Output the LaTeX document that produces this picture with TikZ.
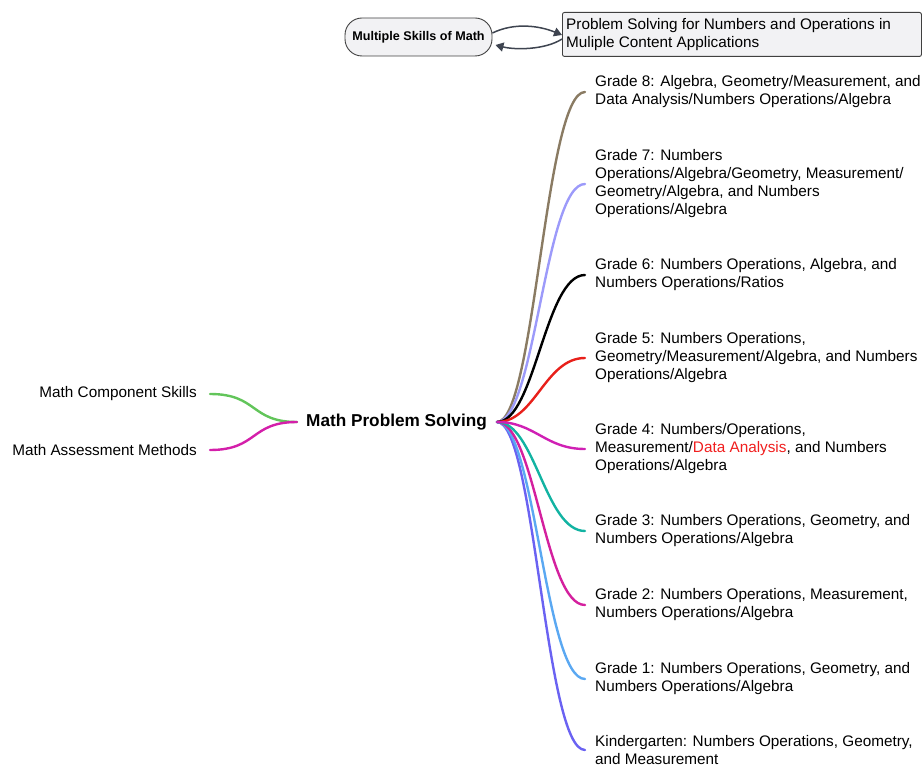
\documentclass[tikz,border=0pt]{standalone}
\usepackage{fontspec}
\setmainfont{Liberation Sans}
\usetikzlibrary{arrows.meta}
\definecolor{cG8}{HTML}{8A7B63}
\definecolor{cG7}{HTML}{9C9AFA}
\definecolor{cG6}{HTML}{000000}
\definecolor{cG5}{HTML}{E8201A}
\definecolor{cG4}{HTML}{D020B4}
\definecolor{cG3}{HTML}{12B3A2}
\definecolor{cG2}{HTML}{D4209E}
\definecolor{cG1}{HTML}{5AA8F2}
\definecolor{cK}{HTML}{6A62F2}
\definecolor{cGreen}{HTML}{62C55A}
\definecolor{cMag}{HTML}{D41FAA}
\definecolor{boxfill}{HTML}{F2F2F4}
\definecolor{arrowc}{HTML}{3E4450}
\definecolor{hl}{HTML}{F01E1E}
\begin{document}
\begin{tikzpicture}[x=1pt,y=-1pt,
  leaf/.style={anchor=west,align=left,inner sep=0pt,font=\fontsize{15.3}{18}\selectfont},
  lefttxt/.style={anchor=east,inner sep=0pt,font=\fontsize{15.3}{18}\selectfont},
  branch/.style={line width=2.4pt,line cap=round},
  link/.style={draw=arrowc,line width=1.5pt,-{Triangle[length=8pt,width=9pt]}}]
\useasboundingbox (0,0) rectangle (922,767);
% top
\node[draw=black!75,line width=0.9pt,fill=boxfill,rounded corners=17pt,minimum width=147pt,minimum height=38pt,inner sep=0pt,font=\bfseries\fontsize{12.6}{14}\selectfont] (msm) at (418.5,37) {Multiple Skills of Math};
\node[draw=black!75,line width=0.9pt,fill=boxfill,rounded corners=2pt,anchor=north west,minimum width=359pt,minimum height=44pt,inner sep=0pt] (psbox) at (562,12) {};
\node[leaf,anchor=west] (pstext) at (566,34.5) {Problem Solving for Numbers and Operations in\\Muliple Content Applications};
\draw[link] (msm.east |- 0,33) .. controls (515,22) and (540,26) .. (psbox.west |- 0,35);
\draw[link] (psbox.west |- 0,39) .. controls (545,50) and (515,50) .. ([xshift=3pt]msm.east |- 0,45);
% root
\node[inner sep=0pt,font=\bfseries\fontsize{17.2}{18}\selectfont] (root) at (396.5,422) {Math Problem Solving};
\coordinate (rs) at (497,422);
\coordinate (rl) at (297,422);
% left
\node[lefttxt] (mcs) at (197,394) {Math Component Skills};
\node[lefttxt] (mam) at (197,450) {Math Assessment Methods};
\draw[branch,cGreen] ([xshift=13pt]mcs.east) .. controls (258,394) and (250,422) .. (rl);
\draw[branch,cMag] ([xshift=13pt]mam.east) .. controls (258,450) and (250,422) .. (rl);
% leaves
\node[leaf] (g8) at (595,92) {Grade 8: Algebra, Geometry/Measurement, and\\Data Analysis/Numbers Operations/Algebra};
\node[leaf] (g7) at (595,184) {Grade 7: Numbers\\Operations/Algebra/Geometry, Measurement/\\Geometry/Algebra, and Numbers\\Operations/Algebra};
\node[leaf] (g6) at (595,275) {Grade 6: Numbers Operations, Algebra, and\\Numbers Operations/Ratios};
\node[leaf] (g5) at (595,358) {Grade 5: Numbers Operations,\\Geometry/Measurement/Algebra, and Numbers\\Operations/Algebra};
\node[leaf] (g4) at (595,449) {Grade 4: Numbers/Operations,\\Measurement/\textcolor{hl}{Data Analysis}, and Numbers\\Operations/Algebra};
\node[leaf] (g3) at (595,531) {Grade 3: Numbers Operations, Geometry, and\\Numbers Operations/Algebra};
\node[leaf] (g2) at (595,605) {Grade 2: Numbers Operations, Measurement,\\Numbers Operations/Algebra};
\node[leaf] (g1) at (595,679) {Grade 1: Numbers Operations, Geometry, and\\Numbers Operations/Algebra};
\node[leaf] (gk) at (595,750) {Kindergarten: Numbers Operations, Geometry,\\and Measurement};
\foreach \n/\c in {g8/cG8,g7/cG7,g6/cG6,g5/cG5,gk/cK,g1/cG1,g2/cG2,g3/cG3,g4/cG4}{
  \draw[branch,\c] (rs) .. controls (535,422) and (545,0 |- \n.west) .. ([xshift=-10pt]\n.west);
}
\end{tikzpicture}
\end{document}
